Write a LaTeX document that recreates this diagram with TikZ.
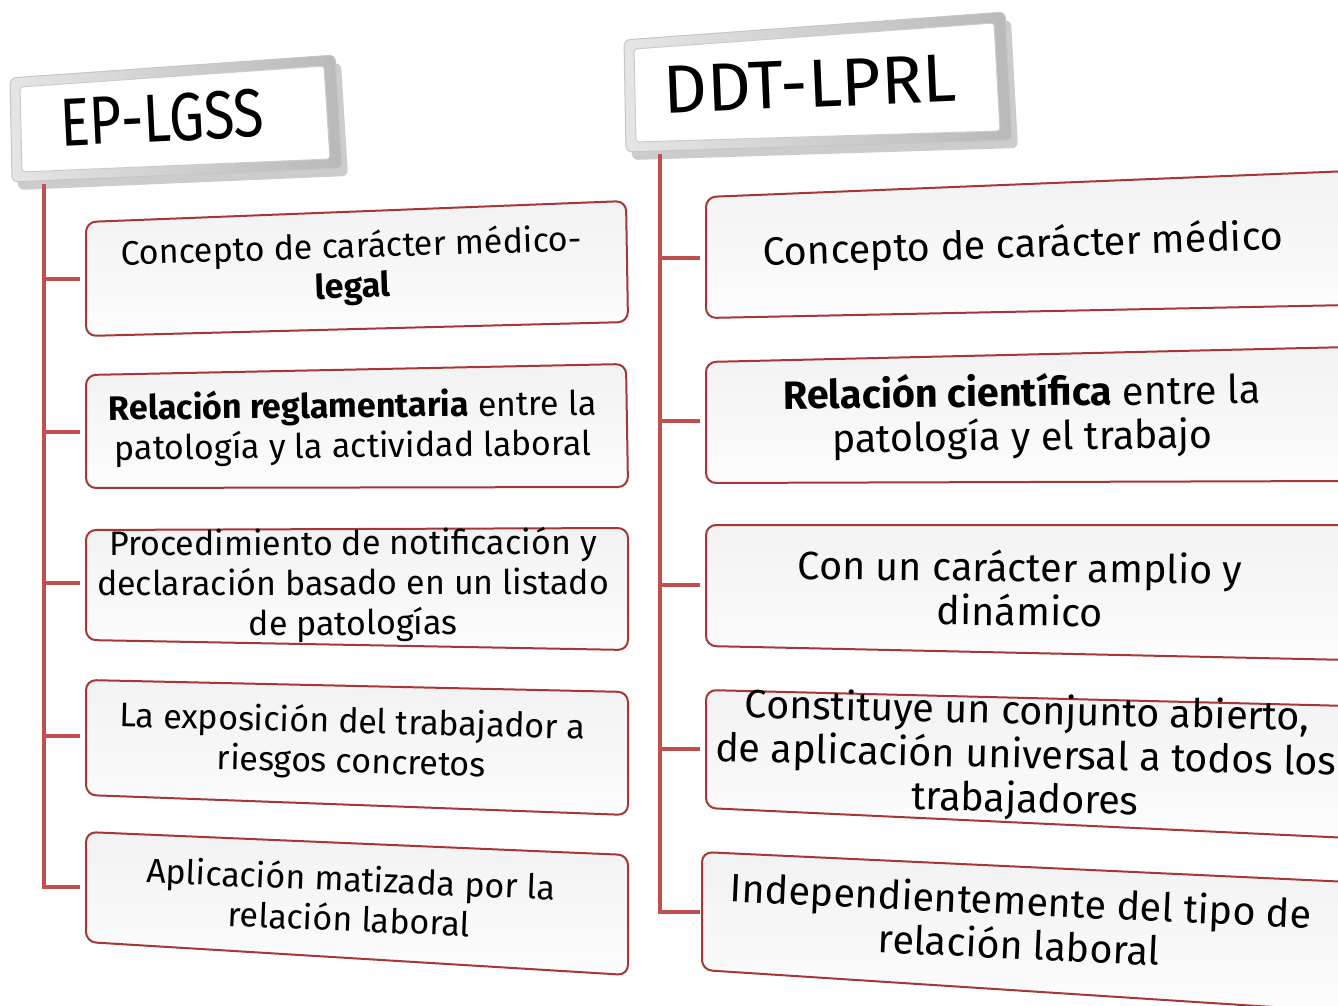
\documentclass[tikz,border=0pt]{standalone}
\usepackage{fontspec}
\setmainfont{Fira Sans}
\newfontfamily\headnarrow{Fira Sans}[FakeStretch=0.82]
\newfontfamily\headwide{Fira Sans}
\definecolor{spinered}{RGB}{192,80,77}
\definecolor{edgered}{RGB}{165,55,55}
\tikzset{
  spine/.style={spinered, line width=4pt},
  cardbox/.style={draw=edgered, line width=2pt, rounded corners=10pt,
    top color=gray!10, bottom color=gray!2},
  lefttext/.style={align=center, inner sep=0pt, font=\fontsize{34}{40}\selectfont},
  righttext/.style={align=center, inner sep=0pt, font=\fontsize{39.5}{44}\selectfont},
  headframe/.style={left color=gray!20, right color=gray!55, draw=gray!45,
    line width=1pt, rounded corners=6pt},
  headinner/.style={fill=white, draw=gray!40, line width=1pt, rounded corners=3pt},
  headtext/.style={inner sep=0pt, font=\fontsize{68}{70}\selectfont}
}
\begin{document}
\begin{tikzpicture}[x=1pt,y=-1pt]
  \useasboundingbox (0,0) rectangle (1338,1006);
  \clip (0,0) rectangle (1338,1006);

  % headers
  \fill[black, opacity=0.2, rounded corners=6pt] (16,86) -- (341,63) -- (348,176) -- (18,190) -- cycle;
  \path[headframe] (10,78) -- (335,55) -- (342,168) -- (12,182) -- cycle;
  \path[headinner] (20,87) -- (324,66) -- (330,159) -- (22,172) -- cycle;
  \node[headtext, rotate=2.8] (ep) at (162,118) {\headnarrow EP-LGSS};

  \fill[black, opacity=0.2, rounded corners=6pt] (630,48) -- (1011,20) -- (1018,148) -- (632,160) -- cycle;
  \path[headframe] (624,40) -- (1005,12) -- (1012,140) -- (626,152) -- cycle;
  \path[headinner] (634,49) -- (994,23) -- (1000,131) -- (636,142) -- cycle;
  \node[headtext, rotate=2.4] (ddt) at (810,84) {\headwide DDT-LPRL};

  \coordinate (epfoot) at (44,184);
  \coordinate (ddtfoot) at (660,154);

  % left column
  \path[cardbox] (86,222) -- (626,201) -- (628,322) -- (86,336) -- cycle;
  \path[cardbox] (86,375) -- (626,364) -- (628,487) -- (86,488) -- cycle;
  \path[cardbox] (86,530) -- (628,528) -- (628,650) -- (86,640) -- cycle;
  \path[cardbox] (86,680) -- (628,692) -- (628,815) -- (86,795) -- cycle;
  \path[cardbox] (86,832) -- (628,855) -- (628,975) -- (86,942) -- cycle;

  \node[lefttext, rotate=1.8] (l1) at (352,268) {Concepto de carácter médico-\\\textbf{legal}};
  \node[lefttext, rotate=0.6] (l2) at (353,427) {\textbf{Relación reglamentaria} entre la\\patología y la actividad laboral};
  \node[lefttext, rotate=0.1] (l3) at (353,585) {Procedimiento de notificación y\\declaración basado en un listado\\de patologías};
  \node[lefttext, rotate=-1.5] (l4) at (352,743) {La exposición del trabajador a\\riesgos concretos};
  \node[lefttext, rotate=-2.4] (l5) at (350,898) {Aplicación matizada por la\\relación laboral};

  \coordinate (l1w) at (80,279);
  \coordinate (l2w) at (80,432);
  \coordinate (l3w) at (80,583);
  \coordinate (l4w) at (80,736);
  \coordinate (l5w) at (80,887);

  \draw[spine] (epfoot) |- (l5w);
  \draw[spine] (l1w -| epfoot) -- (l1w);
  \draw[spine] (l2w -| epfoot) -- (l2w);
  \draw[spine] (l3w -| epfoot) -- (l3w);
  \draw[spine] (l4w -| epfoot) -- (l4w);

  % right column
  \path[cardbox] (706,197) -- (1350,171) -- (1350,305) -- (706,318) -- cycle;
  \path[cardbox] (706,362) -- (1350,347) -- (1350,481) -- (706,483) -- cycle;
  \path[cardbox] (706,525) -- (1350,525) -- (1350,660) -- (706,646) -- cycle;
  \path[cardbox] (706,690) -- (1350,706) -- (1350,838) -- (706,808) -- cycle;
  \path[cardbox] (702,852) -- (1350,882) -- (1350,1012) -- (702,970) -- cycle;

  \node[righttext, rotate=1.8] (r1) at (1023,246) {Concepto de carácter médico};
  \node[righttext, rotate=0.7] (r2) at (1022,416) {\textbf{Relación científica} entre la\\patología y el trabajo};
  \node[righttext, rotate=-0.6] (r3) at (1020,588) {Con un carácter amplio y\\dinámico};
  \node[righttext, rotate=-1.3] (r4) at (1026,757) {Constituye un conjunto abierto,\\de aplicación universal a todos los\\trabajadores};
  \node[righttext, rotate=-2.6] (r5) at (1020,922) {Independientemente del tipo de\\relación laboral};

  \coordinate (r1w) at (700,258);
  \coordinate (r2w) at (700,421);
  \coordinate (r3w) at (700,585);
  \coordinate (r4w) at (700,749);
  \coordinate (r5w) at (700,912);

  \draw[spine] (ddtfoot) |- (r5w);
  \draw[spine] (r1w -| ddtfoot) -- (r1w);
  \draw[spine] (r2w -| ddtfoot) -- (r2w);
  \draw[spine] (r3w -| ddtfoot) -- (r3w);
  \draw[spine] (r4w -| ddtfoot) -- (r4w);
\end{tikzpicture}
\end{document}
